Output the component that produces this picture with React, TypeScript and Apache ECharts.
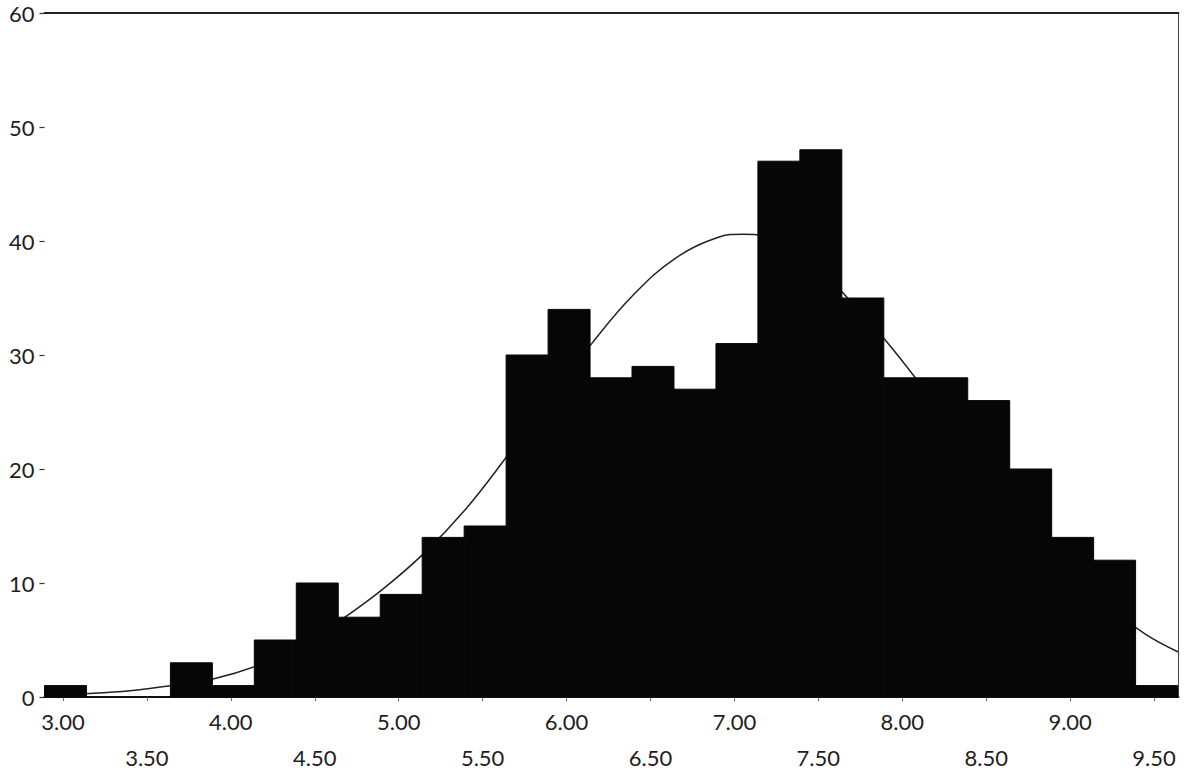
import React, { useEffect, useRef } from "react";
import * as echarts from "echarts";

// Histogram bins: left edge of the first bin, bin width, and counts per bin
const binStart = 2.89;
const binWidth = 0.25;
const binCounts = [
  1, 0, 0, 3, 1, 5, 10, 7, 9, 14, 15, 30, 34, 28, 29, 27, 31, 47, 48, 35, 28,
  28, 26, 20, 14, 12, 1,
];

// Fitted normal curve, read as [x, frequency] points
const curvePoints: [number, number][] = [
  [2.89, 0.15],
  [3.15, 0.3],
  [3.4, 0.55],
  [3.65, 1.0],
  [3.9, 1.6],
  [4.15, 2.7],
  [4.4, 4.3],
  [4.65, 6.7],
  [4.9, 9.4],
  [5.15, 12.6],
  [5.4, 16.5],
  [5.65, 21.2],
  [5.9, 26.1],
  [6.15, 31.0],
  [6.4, 35.3],
  [6.65, 38.5],
  [6.9, 40.3],
  [7.05, 40.6],
  [7.2, 40.4],
  [7.45, 38.3],
  [7.7, 34.6],
  [7.95, 30.4],
  [8.2, 25.6],
  [8.45, 20.5],
  [8.7, 15.8],
  [8.95, 11.6],
  [9.2, 8.2],
  [9.45, 5.5],
  [9.645, 3.95],
];

// Axis ranges and tick values
const xMin = 2.89;
const xMax = 9.645;
const integerTicks = [3, 4, 5, 6, 7, 8, 9];
const halfTicks = [3.5, 4.5, 5.5, 6.5, 7.5, 8.5, 9.5];
const allTicks = [3, 3.5, 4, 4.5, 5, 5.5, 6, 6.5, 7, 7.5, 8, 8.5, 9, 9.5];
const yMin = 0;
const yMax = 60;
const yStep = 10;

const FONT = "Lato, 'Open Sans', sans-serif";
const TEXT_COLOR = "#1e1e1e";
const BAR_COLOR = "#060606";

export default function App() {
  const ref = useRef<HTMLDivElement>(null);

  useEffect(() => {
    document.body.style.margin = "0";
    if (!ref.current) return;
    const chart = echarts.init(ref.current, null, { renderer: "svg" });

    const binData = binCounts.map((c, i) => [
      binStart + i * binWidth,
      binStart + (i + 1) * binWidth,
      c,
    ]);

    const labelBase = {
      fontFamily: FONT,
      fontSize: 22,
      color: TEXT_COLOR,
      formatter: (v: number) => v.toFixed(2),
    };

    chart.setOption({
      animation: false,
      backgroundColor: "#ffffff",
      grid: { left: 44.5, right: 10.6, top: 13, bottom: 80 },
      xAxis: [
        {
          type: "value",
          position: "bottom",
          min: xMin,
          max: xMax,
          axisLine: { show: true, onZero: false, lineStyle: { color: "#111", width: 2 } },
          axisTick: {
            show: true,
            customValues: allTicks,
            length: 4,
            lineStyle: { color: "#666", width: 1 },
          },
          axisLabel: { ...labelBase, customValues: integerTicks, margin: 13 },
          splitLine: { show: false },
        },
        {
          type: "value",
          position: "bottom",
          min: xMin,
          max: xMax,
          axisLine: { show: false },
          axisTick: { show: false },
          axisLabel: { ...labelBase, customValues: halfTicks, margin: 49 },
          splitLine: { show: false },
        },
        {
          type: "value",
          position: "top",
          min: xMin,
          max: xMax,
          axisLine: { show: true, onZero: false, lineStyle: { color: "#222", width: 2 } },
          axisTick: { show: false },
          axisLabel: { show: false },
          splitLine: { show: false },
        },
      ],
      yAxis: [
        {
          type: "value",
          position: "left",
          min: yMin,
          max: yMax,
          interval: yStep,
          axisLine: { show: false },
          axisTick: {
            show: true,
            length: 5,
            lineStyle: { color: "#333", width: 1.2 },
          },
          axisLabel: {
            fontFamily: FONT,
            fontSize: 22,
            color: TEXT_COLOR,
            margin: 10,
          },
          splitLine: { show: false },
        },
        {
          type: "value",
          position: "right",
          min: yMin,
          max: yMax,
          axisLine: { show: true, onZero: false, lineStyle: { color: "#444", width: 1 } },
          axisTick: { show: false },
          axisLabel: { show: false },
          splitLine: { show: false },
        },
      ],
      series: [
        {
          type: "line",
          xAxisIndex: 0,
          yAxisIndex: 0,
          data: curvePoints,
          smooth: 0.4,
          showSymbol: false,
          symbol: "none",
          z: 1,
          lineStyle: { color: "#222", width: 1.5 },
        },
        {
          type: "custom",
          xAxisIndex: 0,
          yAxisIndex: 0,
          z: 3,
          data: binData,
          encode: { x: [0, 1], y: 2 },
          renderItem: (params: any, api: any) => {
            const count = api.value(2);
            if (!count) return null;
            const topLeft = api.coord([api.value(0), count]);
            const bottomRight = api.coord([api.value(1), 0]);
            return {
              type: "rect",
              shape: {
                x: topLeft[0],
                y: topLeft[1],
                width: bottomRight[0] - topLeft[0],
                height: bottomRight[1] - topLeft[1],
              },
              // a hairline stroke in the fill colour closes the seams between neighbouring bars
              style: { fill: BAR_COLOR, stroke: BAR_COLOR, lineWidth: 1 },
            };
          },
        },
      ],
    });

    return () => {
      chart.dispose();
    };
  }, []);

  return <div ref={ref} style={{ width: 1189, height: 777 }} />;
}
